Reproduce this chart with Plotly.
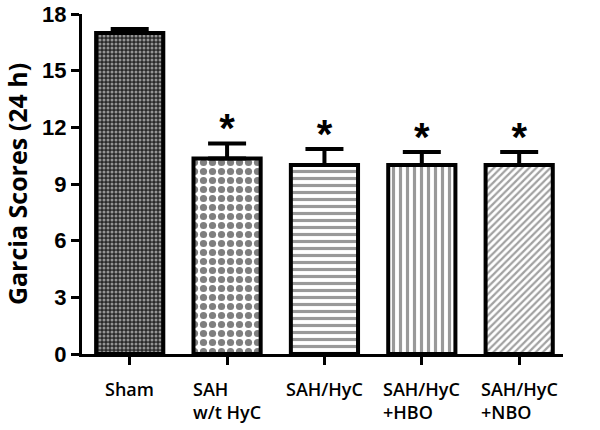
import plotly.graph_objects as go

categories = ["Sham", "SAH<br>w/t HyC", "SAH/HyC", "SAH/HyC<br>+HBO", "SAH/HyC<br>+NBO"]
means = [17.0, 10.35, 10.0, 10.0, 10.0]
errors = [0.2, 0.8, 0.85, 0.7, 0.7]
significant = [False, True, True, True, True]
y_ticks = [0, 3, 6, 9, 12, 15, 18]

x = list(range(len(categories)))

patterns = [
    dict(shape=".", fgcolor="#ffffff", bgcolor="#2a2a2a", size=4, solidity=0.45),
    dict(shape=".", fgcolor="#000000", bgcolor="#ffffff", size=9, solidity=0.5),
    dict(shape="-", fgcolor="#333333", bgcolor="#ffffff", size=7, solidity=0.45),
    dict(shape="|", fgcolor="#333333", bgcolor="#ffffff", size=7, solidity=0.45),
    dict(shape="/", fgcolor="#444444", bgcolor="#ffffff", size=5, solidity=0.45),
]

fig = go.Figure()
for i in x:
    fig.add_trace(go.Bar(
        x=[i], y=[means[i]], width=0.69,
        marker=dict(color="white", line=dict(color="black", width=4), pattern=patterns[i]),
        error_y=dict(type="data", array=[errors[i]], arrayminus=[0], symmetric=False,
                     color="black", thickness=4, width=19),
        showlegend=False,
    ))

star_x = [i for i in x if significant[i]]
star_y = [means[i] + errors[i] + 0.6 for i in x if significant[i]]
fig.add_trace(go.Scatter(
    x=star_x, y=star_y, mode="text", text=["*"] * len(star_x),
    textfont=dict(family="Liberation Sans", size=40, color="black", weight="bold"),
    textposition="middle center", showlegend=False, cliponaxis=False,
))

for i in x:
    fig.add_annotation(
        x=i, y=0, yref="y", xref="x", text=categories[i], showarrow=False,
        xanchor="center", yanchor="top", yshift=-21, align="left",
        font=dict(family="Open Sans", size=18, color="black", weight=600),
    )

fig.update_layout(
    width=600, height=430,
    margin=dict(l=82, r=37, t=14, b=76),
    paper_bgcolor="white", plot_bgcolor="white",
    barmode="overlay",
    font=dict(family="Liberation Sans", color="black"),
)
fig.update_xaxes(
    range=[-0.49, 4.45], tickmode="array", tickvals=x, ticktext=[""] * len(x),
    showline=True, linecolor="black", linewidth=3,
    ticks="outside", ticklen=8, tickwidth=3, tickcolor="black",
    showgrid=False, zeroline=False, automargin=False,
)
fig.update_yaxes(
    range=[0, 18], tickmode="array", tickvals=y_ticks,
    showline=True, linecolor="black", linewidth=3,
    ticks="outside", ticklen=8, tickwidth=3, tickcolor="black",
    ticklabeloverflow="allow",
    tickfont=dict(family="Liberation Sans", size=22, color="black", weight="bold"),
    title=dict(text="Garcia Scores (24 h)", font=dict(family="Open Sans", size=25, color="black", weight="bold"), standoff=13),
    showgrid=False, zeroline=False, automargin=False,
)

fig.write_html("out.html", config={"displayModeBar": False},
               post_script="document.body.style.margin='0';")
